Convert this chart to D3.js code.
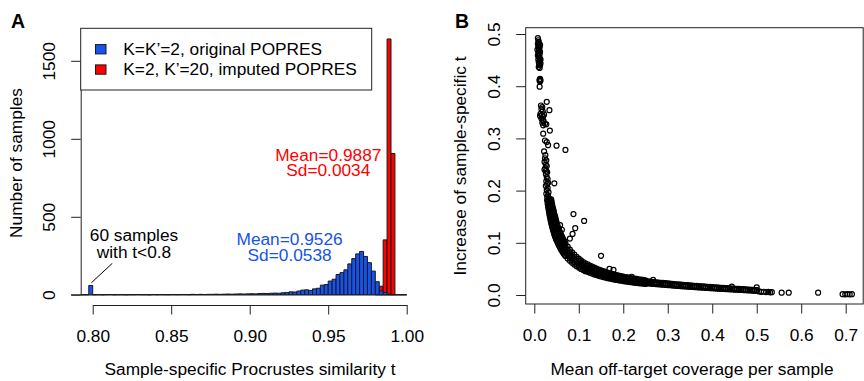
<!DOCTYPE html>
<html><head><meta charset="utf-8">
<script src="https://cdn.jsdelivr.net/npm/d3@7"></script>
<style>
html,body{margin:0;padding:0;background:#fff;}
svg{display:block;}
text{font-family:"Liberation Sans",Arial,Helvetica,sans-serif;}
</style></head><body>
<svg id="fig" width="864" height="381"></svg>
<script>
// ---------- Panel A data: histograms of sample-specific Procrustes similarity t ----------
const binWidth = 0.0025;
const blueStart = 0.7925;   // first break of the original-POPRES histogram (t<0.8 pooled at 0.7975)
const blueCounts = [0, 0, 60,
  0,1,0,1,2,0,1,1,0,1,
  1,2,1,1,0,2,1,2,1,1,
  2,1,2,2,1,3,2,3,2,3,
  3,4,3,4,5,4,5,6,5,6,
  7,6,8,9,8,10,11,10,13,14,
  19,18,24,30,32,28,38,42,62,66,
  88,100,130,142,160,198,232,262,278,246,206,152,84,
  25,15,4,1,0,0,0];
const redStart = 0.98;
const redCounts = [8, 55, 352, 1640, 906];
const histXTicks = [0.80, 0.85, 0.90, 0.95, 1.00];
const histYTicks = [0, 500, 1000, 1500];
const legendLabels = ["K=K\u2019=2, original POPRES", "K=2, K\u2019=20, imputed POPRES"];
const blueStats = ["Mean=0.9526", "Sd=0.0538"];
const redStats = ["Mean=0.9887", "Sd=0.0034"];
const noteLines = ["60 samples", "with t<0.8"];

// ---------- Panel B data: increase of t vs mean off-target coverage ----------
const scatterXTicks = [0, 0.1, 0.2, 0.3, 0.4, 0.5, 0.6, 0.7];
const scatterYTicks = [0, 0.1, 0.2, 0.3, 0.4, 0.5];

// low-coverage samples with large gains
const upperPoints = [
  [0.008,0.492],[0.009,0.488],[0.010,0.485],[0.008,0.481],[0.011,0.479],[0.009,0.476],[0.012,0.474],
  [0.010,0.471],[0.011,0.468],[0.013,0.466],[0.009,0.464],[0.012,0.461],[0.010,0.458],[0.011,0.455],
  [0.013,0.453],[0.009,0.451],[0.012,0.448],[0.010,0.446],[0.014,0.444],[0.011,0.442],[0.013,0.440],
  [0.010,0.437],[0.012,0.435],[0.014,0.451],[0.007,0.470],[0.013,0.479],[0.008,0.459],
  [0.012,0.4125],[0.013,0.414],[0.014,0.411],[0.013,0.409],[0.012,0.4105],[0.012,0.399],
  [0.028,0.370],[0.034,0.354],[0.015,0.363],[0.018,0.360],[0.016,0.356],[0.019,0.352],[0.014,0.347],
  [0.017,0.344],[0.020,0.342],[0.022,0.346],[0.013,0.343],[0.016,0.338],[0.019,0.335],[0.021,0.333],
  [0.018,0.330],[0.024,0.328],[0.027,0.327],[0.020,0.325],[0.035,0.315],[0.020,0.309],[0.024,0.296],
  [0.028,0.293],[0.031,0.287],[0.050,0.286],[0.070,0.278],
  [0.022,0.275],[0.025,0.268],[0.024,0.262],[0.027,0.258],[0.023,0.255],[0.026,0.250],[0.028,0.247],
  [0.025,0.243],[0.023,0.240],[0.027,0.238],[0.029,0.235],[0.026,0.232],[0.028,0.226],[0.030,0.222],
  [0.027,0.218],[0.031,0.215],[0.029,0.212],[0.045,0.214],[0.026,0.209],[0.030,0.205],[0.028,0.201],
  [0.032,0.197],[0.027,0.194],[0.031,0.191],[0.029,0.187],[0.033,0.184],[0.030,0.181]
];
// samples lying off the main curve
const offCurvePoints = [
  [0.088,0.155],[0.112,0.142],[0.092,0.128],[0.086,0.117],[0.080,0.108],[0.058,0.134],[0.062,0.125],
  [0.150,0.075],[0.169,0.050],[0.178,0.048],[0.219,0.035],[0.267,0.029],[0.444,0.016],[0.500,0.0147],
  [0.047,0.150],[0.043,0.162],[0.055,0.120]
];
// high-coverage tail
const tailPoints = [
  [0.505,0.0068],[0.510,0.0060],[0.516,0.0062],[0.521,0.0056],[0.526,0.0058],[0.530,0.0052],
  [0.534,0.0055],[0.556,0.0044],[0.572,0.0044],[0.638,0.0044],[0.693,0.0015],[0.699,0.0012],
  [0.704,0.0017],[0.709,0.0013],[0.714,0.0016]
];
// dense steep part of the curve, from its inner to its outer edge
const steepInner = [
  [0.029,0.1809],[0.030,0.1749],[0.031,0.1692],[0.032,0.1639],[0.033,0.1590],[0.034,0.1543],[0.035,0.1499],
  [0.036,0.1457],[0.037,0.1418],[0.038,0.1381],[0.039,0.1345],[0.040,0.1312],[0.041,0.1280],[0.042,0.1249],
  [0.043,0.1220],[0.044,0.1192],[0.045,0.1166],[0.046,0.1140],[0.047,0.1116],[0.048,0.1093],[0.049,0.1071],
  [0.050,0.1049],[0.052,0.1009],[0.054,0.0971],[0.056,0.0937],[0.058,0.0904],[0.060,0.0874],[0.062,0.0846],
  [0.064,0.0820],[0.066,0.0795],[0.068,0.0771]
];
const steepInnerMid = [
  [0.031,0.1830],[0.032,0.1773],[0.033,0.1719],[0.034,0.1669],[0.035,0.1621],[0.036,0.1576],[0.037,0.1533],
  [0.038,0.1493],[0.039,0.1455],[0.040,0.1418],[0.041,0.1384],[0.042,0.1351],[0.043,0.1319],[0.044,0.1289],
  [0.045,0.1261],[0.046,0.1233],[0.047,0.1207],[0.048,0.1182],[0.049,0.1158],[0.050,0.1135],[0.052,0.1091],
  [0.054,0.1051],[0.056,0.1013],[0.058,0.0978],[0.060,0.0946],[0.062,0.0915],[0.064,0.0886],[0.066,0.0860],
  [0.068,0.0834]
];
const steepCentre = [
  [0.033,0.1848],[0.034,0.1794],[0.035,0.1743],[0.036,0.1694],[0.037,0.1649],[0.038,0.1605],[0.039,0.1564],
  [0.040,0.1525],[0.041,0.1488],[0.042,0.1452],[0.043,0.1419],[0.044,0.1386],[0.045,0.1356],[0.046,0.1326],
  [0.047,0.1298],[0.048,0.1271],[0.049,0.1245],[0.050,0.1220],[0.052,0.1173],[0.054,0.1130],[0.056,0.1089],
  [0.058,0.1052],[0.060,0.1017],[0.062,0.0984],[0.064,0.0953],[0.066,0.0924],[0.068,0.0897]
];
const steepOuterMid = [
  [0.036,0.1813],[0.037,0.1764],[0.038,0.1718],[0.039,0.1674],[0.040,0.1632],[0.041,0.1592],[0.042,0.1554],
  [0.043,0.1518],[0.044,0.1483],[0.045,0.1450],[0.046,0.1419],[0.047,0.1389],[0.048,0.1360],[0.049,0.1332],
  [0.050,0.1305],[0.052,0.1255],[0.054,0.1209],[0.056,0.1166],[0.058,0.1125],[0.060,0.1088],[0.062,0.1053],
  [0.064,0.1020],[0.066,0.0989],[0.068,0.0960]
];
const steepOuter = [
  [0.038,0.1830],[0.039,0.1783],[0.040,0.1739],[0.041,0.1696],[0.042,0.1656],[0.043,0.1617],[0.044,0.1580],
  [0.045,0.1545],[0.046,0.1512],[0.047,0.1480],[0.048,0.1449],[0.049,0.1419],[0.050,0.1391],[0.052,0.1337],
  [0.054,0.1288],[0.056,0.1242],[0.058,0.1199],[0.060,0.1159],[0.062,0.1122],[0.064,0.1087],[0.066,0.1054],
  [0.068,0.1023]
];
// flatter part of the curve: [coverage, y values from lowest to highest]
const flatRowsWide = [
  [0.070,0.0749,0.0810,0.0871,0.0932,0.0993],[0.075,0.0699,0.0756,0.0813,0.0870,0.0927],
  [0.080,0.0656,0.0710,0.0763,0.0816,0.0869],[0.085,0.0617,0.0668,0.0718,0.0768,0.0818],
  [0.090,0.0583,0.0631,0.0678,0.0725,0.0773],[0.095,0.0552,0.0597,0.0642,0.0687,0.0732],
  [0.100,0.0525,0.0567,0.0610,0.0653,0.0695],[0.105,0.0500,0.0540,0.0581,0.0622,0.0662],
  [0.110,0.0477,0.0516,0.0555,0.0594,0.0632],[0.115,0.0456,0.0493,0.0530,0.0567,0.0605],
  [0.120,0.0444,0.0481,0.0517,0.0553,0.0589],[0.125,0.0427,0.0461,0.0496,0.0531,0.0565],
  [0.130,0.0410,0.0444,0.0477,0.0510,0.0544],[0.135,0.0395,0.0427,0.0459,0.0491,0.0524],
  [0.140,0.0381,0.0412,0.0443,0.0474,0.0505],[0.145,0.0368,0.0398,0.0428,0.0458,0.0488],
  [0.150,0.0355,0.0384,0.0413,0.0442,0.0471],[0.155,0.0344,0.0372,0.0400,0.0428,0.0456],
  [0.160,0.0333,0.0361,0.0388,0.0415,0.0442],[0.165,0.0323,0.0350,0.0376,0.0402,0.0428],
  [0.170,0.0314,0.0339,0.0365,0.0391,0.0416],[0.175,0.0305,0.0329,0.0354,0.0379,0.0404],
  [0.180,0.0296,0.0320,0.0344,0.0368,0.0393],[0.185,0.0288,0.0312,0.0335,0.0358,0.0382],
  [0.190,0.0281,0.0303,0.0326,0.0349,0.0372],[0.195,0.0273,0.0296,0.0318,0.0340,0.0363],
  [0.200,0.0267,0.0288,0.0310,0.0332,0.0353],[0.205,0.0260,0.0281,0.0302,0.0323,0.0345],
  [0.210,0.0254,0.0274,0.0295,0.0316,0.0337],[0.215,0.0248,0.0268,0.0288,0.0308,0.0329],
  [0.220,0.0242,0.0262,0.0282,0.0302,0.0321],[0.225,0.0237,0.0257,0.0276,0.0295,0.0314],
  [0.230,0.0232,0.0251,0.0270,0.0289,0.0307],[0.235,0.0227,0.0246,0.0264,0.0282,0.0301],
  [0.240,0.0222,0.0240,0.0258,0.0276,0.0295],[0.245,0.0218,0.0235,0.0253,0.0271,0.0288],
  [0.250,0.0213,0.0231,0.0248,0.0265,0.0283]
];
const flatRowsThin = [
  [0.255,0.0224,0.0243,0.0262],[0.260,0.0219,0.0238,0.0257],[0.265,0.0215,0.0234,0.0253],
  [0.270,0.0211,0.0230,0.0248],[0.275,0.0207,0.0225,0.0243],[0.280,0.0204,0.0221,0.0239],
  [0.285,0.0200,0.0218,0.0235],[0.290,0.0197,0.0214,0.0231],[0.295,0.0193,0.0210,0.0227],
  [0.300,0.0190,0.0207,0.0223],[0.305,0.0187,0.0203,0.0219],[0.310,0.0183,0.0199,0.0215],
  [0.315,0.0179,0.0195,0.0211],[0.320,0.0176,0.0191,0.0206],[0.325,0.0173,0.0188,0.0203],
  [0.330,0.0169,0.0184,0.0199],[0.335,0.0166,0.0181,0.0195],[0.340,0.0163,0.0178,0.0192],
  [0.345,0.0160,0.0174,0.0188],[0.350,0.0158,0.0171,0.0185],[0.355,0.0155,0.0168,0.0181],
  [0.360,0.0151,0.0164,0.0177],[0.365,0.0148,0.0161,0.0174],[0.370,0.0145,0.0158,0.0170],
  [0.375,0.0142,0.0155,0.0167],[0.380,0.0139,0.0152,0.0164],[0.385,0.0137,0.0149,0.0161],
  [0.390,0.0134,0.0146,0.0157],[0.395,0.0131,0.0143,0.0154],[0.400,0.0129,0.0140,0.0151],
  [0.405,0.0126,0.0137,0.0148],[0.410,0.0123,0.0134,0.0145],[0.415,0.0121,0.0131,0.0142],
  [0.420,0.0118,0.0129,0.0139],[0.425,0.0116,0.0126,0.0136],[0.430,0.0113,0.0123,0.0133],
  [0.435,0.0111,0.0121,0.0130],[0.440,0.0109,0.0118,0.0127],[0.445,0.0106,0.0116,0.0125],
  [0.450,0.0104,0.0113,0.0122],[0.455,0.0102,0.0111,0.0119],[0.460,0.0099,0.0108,0.0116],
  [0.465,0.0097,0.0105,0.0113],[0.470,0.0094,0.0103,0.0111],[0.475,0.0092,0.0100,0.0108],
  [0.480,0.0090,0.0098,0.0105],[0.485,0.0087,0.0095,0.0103],[0.490,0.0085,0.0093,0.0100],
  [0.495,0.0083,0.0090,0.0097],[0.500,0.0081,0.0088,0.0095]
];

// ---------- styling ----------
const BLUE = "#1652F0", RED = "#FF0000", AXIS = "#222";
const FS = 17.3;
const FONT = "Liberation Sans, Arial, sans-serif";

const svg = d3.select("#fig");
const txt = (g, s, x, y, opts = {}) => g.append("text").attr("x", x).attr("y", y)
  .attr("font-size", opts.size || FS).attr("fill", opts.fill || "#000")
  .attr("text-anchor", opts.anchor || "middle").attr("font-weight", opts.weight || null).text(s);

function styleAxis(sel, rotated) {
  sel.selectAll(".tick line").attr("stroke", AXIS);
  const t = sel.selectAll(".tick text").attr("font-size", FS).attr("font-family", FONT).attr("fill", "#000");
  if (rotated) {
    t.attr("x", null).attr("dy", null).attr("transform", "translate(-25.6,0) rotate(-90)").attr("text-anchor", "middle");
  } else {
    t.attr("y", 36.5).attr("dy", null);
  }
}

// ================= Panel A =================
const xA = d3.scaleLinear().domain([0.80, 1.00]).range([92.7, 406.7]);
const yA = d3.scaleLinear().domain([0, 1500]).range([294.8, 60.8]);
const gA = svg.append("g");

// baseline under the bars
gA.append("line").attr("x1", 71).attr("x2", xA(1.0)).attr("y1", yA(0)).attr("y2", yA(0))
  .attr("stroke", AXIS).attr("stroke-width", 1);

function barPath(start, i, n) {
  const x0 = xA(start + i * binWidth), x1 = xA(start + (i + 1) * binWidth);
  const y0 = yA(0), y1 = yA(n);
  return `M${x0},${y0}V${y1}H${x1}V${y0}Z`;
}
const redBins = redCounts.map((n, i) => ({ i, n }));
const blueBins = blueCounts.map((n, i) => ({ i, n }));
gA.append("g").selectAll("path").data(redBins).join("path")
  .attr("d", d => barPath(redStart, d.i, d.n))
  .attr("fill", RED).attr("stroke", "#1a1a1a").attr("stroke-width", 1);
gA.append("g").selectAll("path").data(blueBins).join("path")
  .attr("d", d => barPath(blueStart, d.i, d.n))
  .attr("fill", BLUE).attr("stroke", "#1a1a1a").attr("stroke-width", 1);

// x axis
const axA = gA.append("g").attr("transform", "translate(0,305)")
  .call(d3.axisBottom(xA).tickValues(histXTicks).tickFormat(d3.format(".2f")).tickSize(9.5).tickSizeOuter(0));
axA.select(".domain").attr("stroke", AXIS);
styleAxis(axA, false);

// y axis
const ayA = gA.append("g").attr("transform", "translate(80.7,0)")
  .call(d3.axisLeft(yA).tickValues(histYTicks).tickFormat(d3.format("d")).tickSize(9.5).tickSizeOuter(0));
ayA.select(".domain").attr("stroke", AXIS);
styleAxis(ayA, true);

// annotations
txt(gA, blueStats[0], 289.6, 244.5, { fill: BLUE });
txt(gA, blueStats[1], 289.6, 260.5, { fill: BLUE });
txt(gA, redStats[0], 328.3, 160.5, { fill: RED });
txt(gA, redStats[1], 328.3, 176.3, { fill: RED });
txt(gA, noteLines[0], 134, 240.5);
txt(gA, noteLines[1], 134, 258);
gA.append("line").attr("x1", xA(0.7992)).attr("y1", 282.7).attr("x2", 112.3).attr("y2", 263.3)
  .attr("stroke", "#000").attr("stroke-width", 1);

// legend
const lg = gA.append("g");
lg.append("rect").attr("x", 80.7).attr("y", 28.3).attr("width", 291).attr("height", 61.7)
  .attr("fill", "#fff").attr("stroke", AXIS).attr("stroke-width", 1);
[BLUE, RED].forEach((c, k) => {
  lg.append("rect").attr("x", 95.5).attr("y", 44.6 + k * 20.3).attr("width", 10.5).attr("height", 9.3)
    .attr("fill", c).attr("stroke", "#1a1a1a").attr("stroke-width", 1);
  txt(lg, legendLabels[k], 123.3, 54.5 + k * 20.3, { anchor: "start" });
});

// titles
txt(gA, "Sample-specific Procrustes similarity t", 250, 375);
gA.append("text").attr("transform", "translate(22,163) rotate(-90)").attr("text-anchor", "middle")
  .attr("font-size", FS).text("Number of samples");
txt(gA, "A", 11, 28, { anchor: "start", weight: "bold", size: 19.5 });

// ================= Panel B =================
const xB = d3.scaleLinear().domain([0, 0.7]).range([534.3, 845.7]);
const yB = d3.scaleLinear().domain([0, 0.5]).range([295, 34]);
const gB = svg.append("g");

const rowsToPoints = rows => rows.flatMap(r => r.slice(1).map(y => [r[0], y]));
const allPoints = [].concat(
  upperPoints, offCurvePoints, tailPoints,
  steepInner, steepInnerMid, steepCentre, steepOuterMid, steepOuter,
  rowsToPoints(flatRowsWide), rowsToPoints(flatRowsThin)
);
gB.append("g").selectAll("circle").data(allPoints).join("circle")
  .attr("cx", d => xB(d[0])).attr("cy", d => yB(d[1])).attr("r", 2.5)
  .attr("fill", "none").attr("stroke", "#000").attr("stroke-width", 1.2);

// plot frame
gB.append("rect").attr("x", 525.7).attr("y", 27.7).attr("width", 337.5).attr("height", 276.3)
  .attr("fill", "none").attr("stroke", AXIS).attr("stroke-width", 1);

const axB = gB.append("g").attr("transform", "translate(0,304)")
  .call(d3.axisBottom(xB).tickValues(scatterXTicks).tickFormat(d3.format(".1f")).tickSize(9.5).tickSizeOuter(0));
axB.select(".domain").remove();
styleAxis(axB, false);

const ayB = gB.append("g").attr("transform", "translate(525.7,0)")
  .call(d3.axisLeft(yB).tickValues(scatterYTicks).tickFormat(d3.format(".1f")).tickSize(9.5).tickSizeOuter(0));
ayB.select(".domain").remove();
styleAxis(ayB, true);

txt(gB, "Mean off-target coverage per sample", 692, 375);
gB.append("text").attr("transform", "translate(466,166) rotate(-90)").attr("text-anchor", "middle")
  .attr("font-size", FS).text("Increase of sample-specific t");
txt(gB, "B", 455, 28, { anchor: "start", weight: "bold", size: 19.5 });
</script>
</body></html>
